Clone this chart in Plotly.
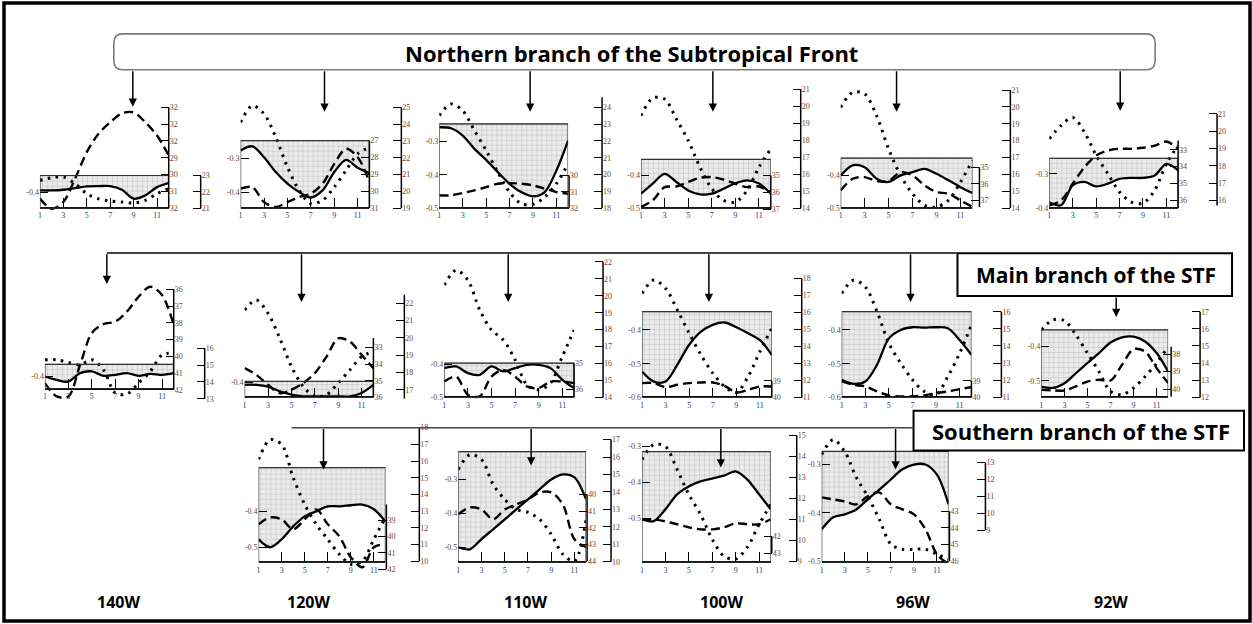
import plotly.graph_objects as go

W, H = 1252, 624
months = list(range(1, 13))
month_ticks = [1, 3, 5, 7, 9, 11]

# ---------------- data ----------------
# Row 1 : northern branch of the Subtropical Front
N140_solid = [-0.395, -0.395, -0.393, -0.388, -0.383, -0.382, -0.382, -0.393, -0.420, -0.410, -0.385, -0.373]
N140_dashed = [31.44, 32.04, 31.64, 30.25, 28.67, 27.58, 26.89, 26.36, 26.30, 26.89, 27.68, 28.87]
N140_dotted = [22.69, 22.86, 22.90, 22.49, 21.88, 21.57, 21.43, 21.37, 21.31, 21.47, 21.88, 22.19]
N140_shade = -0.350

N120_solid = [-0.277, -0.265, -0.297, -0.341, -0.375, -0.400, -0.416, -0.395, -0.341, -0.305, -0.328, -0.344]
N120_dashed = [29.85, 29.76, 30.65, 30.94, 30.65, 30.35, 30.15, 29.56, 28.38, 27.49, 27.99, 29.46]
N120_dotted = [24.11, 25.10, 24.61, 23.22, 21.44, 20.05, 19.26, 19.46, 20.25, 21.24, 22.23, 22.62]
N120_shade = -0.248

N110_solid = [-0.257, -0.260, -0.282, -0.322, -0.355, -0.392, -0.427, -0.452, -0.465, -0.452, -0.387, -0.297]
N110_dashed = [31.22, 31.22, 31.08, 30.92, 30.72, 30.51, 30.47, 30.51, 30.61, 30.81, 31.02, 31.12]
N110_dotted = [23.51, 24.20, 23.80, 22.62, 21.43, 20.14, 18.95, 18.26, 18.22, 18.65, 19.45, 20.64]
N110_shade = -0.247

N100_solid = [-0.456, -0.425, -0.395, -0.420, -0.446, -0.458, -0.456, -0.441, -0.424, -0.415, -0.425, -0.456]
N100_dashed = [36.86, 36.47, 35.69, 35.65, 35.39, 35.14, 35.10, 35.25, 35.49, 35.69, 35.65, 35.98]
N100_dotted = [19.43, 20.47, 20.41, 19.24, 17.97, 16.40, 15.14, 14.45, 14.35, 15.04, 16.40, 17.48]
N100_shade = -0.351

N96_solid = [-0.400, -0.369, -0.375, -0.410, -0.420, -0.400, -0.390, -0.380, -0.395, -0.415, -0.436, -0.454]
N96_dashed = [36.40, 35.70, 35.60, 35.84, 35.84, 35.30, 35.50, 36.10, 36.50, 36.60, 37.00, 37.40]
N96_dotted = [19.97, 20.86, 20.77, 19.48, 17.51, 15.93, 14.85, 14.16, 14.06, 14.46, 15.54, 16.82]
N96_shade = -0.347

N92_solid = [-0.383, -0.392, -0.334, -0.324, -0.337, -0.329, -0.315, -0.312, -0.312, -0.305, -0.271, -0.290]
N92_dashed = [36.30, 36.00, 35.01, 34.03, 33.34, 33.04, 32.94, 32.94, 32.88, 32.75, 32.51, 32.94]
N92_dotted = [19.56, 20.33, 20.80, 19.94, 18.60, 17.54, 16.48, 15.90, 15.84, 16.58, 18.12, 19.17]
N92_shade = -0.255

# Row 2 : main branch of the STF
M140_solid = [-0.400, -0.410, -0.415, -0.390, -0.385, -0.398, -0.395, -0.390, -0.398, -0.392, -0.395, -0.390]
M140_dashed = [41.60, 42.40, 42.40, 40.51, 38.62, 38.07, 37.93, 37.33, 36.44, 35.84, 36.34, 38.13]
M140_dotted = [15.31, 15.31, 15.15, 15.01, 15.31, 14.72, 13.34, 13.28, 13.93, 14.62, 15.60, 15.70]
M140_shade = -0.364

M120_solid = [-0.407, -0.407, -0.412, -0.426, -0.436, -0.441, -0.441, -0.441, -0.441, -0.441, -0.431, -0.407]
M120_dashed = [34.24, 34.64, 35.24, 35.74, 35.54, 35.14, 34.54, 33.54, 32.44, 32.64, 33.44, 34.24]
M120_dotted = [21.61, 22.19, 21.42, 19.98, 18.34, 17.19, 16.61, 16.71, 17.39, 18.15, 18.92, 19.21]
M120_shade = -0.397

M110_solid = [-0.412, -0.407, -0.427, -0.432, -0.407, -0.422, -0.412, -0.402, -0.402, -0.412, -0.447, -0.472]
M110_dashed = [35.71, 35.52, 36.22, 36.28, 35.52, 35.26, 35.52, 35.90, 35.96, 35.71, 35.71, 35.77]
M110_dotted = [20.63, 21.51, 20.92, 19.16, 17.98, 17.39, 16.22, 14.75, 14.45, 14.85, 16.41, 17.98]
M110_shade = -0.397

M100_solid = [-0.523, -0.553, -0.553, -0.503, -0.444, -0.405, -0.385, -0.378, -0.392, -0.410, -0.430, -0.474]
M100_dashed = [39.14, 39.14, 39.38, 39.24, 39.14, 39.10, 39.10, 39.30, 39.70, 39.54, 39.34, 39.34]
M100_dotted = [17.12, 17.90, 17.41, 16.14, 14.77, 13.50, 12.43, 11.64, 11.29, 12.23, 13.70, 15.07]
M100_shade = -0.346

M96_solid = [-0.548, -0.560, -0.553, -0.503, -0.425, -0.400, -0.392, -0.393, -0.392, -0.395, -0.430, -0.474]
M96_dashed = [39.04, 39.24, 39.34, 39.64, 39.88, 39.94, 39.94, 39.88, 39.74, 39.64, 39.50, 39.38]
M96_dotted = [17.07, 17.84, 17.45, 16.00, 14.16, 13.00, 12.03, 11.35, 11.16, 12.22, 13.58, 15.23]
M96_shade = -0.346

M92_solid = [-0.517, -0.521, -0.507, -0.478, -0.448, -0.419, -0.388, -0.373, -0.371, -0.385, -0.419, -0.473]
M92_dashed = [40.04, 40.08, 40.08, 39.85, 39.57, 39.47, 39.51, 38.61, 37.71, 37.85, 38.80, 39.66]
M92_dotted = [15.94, 16.52, 16.48, 15.65, 14.58, 13.51, 12.35, 12.16, 12.55, 13.22, 14.00, 14.97]
M92_shade = -0.351

# Row 3 : southern branch of the STF
S120_solid = [-0.478, -0.500, -0.478, -0.442, -0.414, -0.400, -0.386, -0.386, -0.383, -0.381, -0.394, -0.428]
S120_dashed = [39.24, 38.82, 38.94, 39.55, 38.94, 38.33, 39.24, 39.98, 41.27, 41.88, 40.65, 40.47]
S120_dotted = [16.09, 17.28, 16.99, 15.01, 13.40, 12.21, 11.31, 10.42, 9.82, 10.00, 11.31, 12.63]
S120_shade = -0.278

S110_solid = [-0.500, -0.506, -0.476, -0.447, -0.418, -0.388, -0.359, -0.329, -0.300, -0.285, -0.294, -0.359]
S110_dashed = [41.19, 40.78, 40.90, 41.49, 40.90, 40.60, 40.30, 39.88, 39.88, 40.60, 42.69, 43.16]
S110_dotted = [15.29, 16.14, 15.86, 14.43, 13.57, 13.00, 12.83, 12.43, 11.57, 10.43, 10.03, 12.43]
S110_shade = -0.218

S100_solid = [-0.503, -0.508, -0.475, -0.433, -0.411, -0.397, -0.389, -0.381, -0.369, -0.392, -0.433, -0.475]
S100_dashed = [41.00, 41.00, 41.12, 41.29, 41.47, 41.59, 41.59, 41.47, 41.24, 41.29, 41.29, 41.00]
S100_dotted = [13.86, 14.57, 14.48, 13.38, 12.19, 11.24, 10.05, 9.24, 9.10, 9.67, 10.76, 11.71]
S100_shade = -0.314

S96_solid = [-0.434, -0.409, -0.403, -0.393, -0.372, -0.352, -0.331, -0.310, -0.300, -0.300, -0.321, -0.382]
S96_dashed = [42.16, 42.28, 42.40, 42.58, 42.10, 41.86, 42.58, 42.88, 43.18, 44.08, 45.58, 46.18]
S96_dotted = [13.47, 14.35, 13.65, 12.12, 11.00, 9.65, 8.18, 7.88, 7.88, 7.88, 7.59, 7.29]
S96_shade = -0.273

# ---------------- tick labels ----------------
TICKS = {
    'N140': ([-0.4], ['-0.4'], [26, 27, 28, 29, 30, 31, 32], ['32', '32', '32', '29', '30', '31', '32'], [21, 22, 23]),
    'N120': ([-0.3, -0.4], ['-0.3', '-0.4'], [27, 28, 29, 30, 31], None, [19, 20, 21, 22, 23, 24, 25]),
    'N110': ([-0.3, -0.4, -0.5], ['-0.3', '-0.4', '-0.5'], [30, 31, 32], None, [18, 19, 20, 21, 22, 23, 24]),
    'N100': ([-0.4, -0.5], ['-0.4', '-0.5'], [35, 36, 37], None, [14, 15, 16, 17, 18, 19, 20, 21]),
    'N96': ([-0.4, -0.5], ['-0.4', '-0.5'], [35, 36, 37], None, [14, 15, 16, 17, 18, 19, 20, 21]),
    'N92': ([-0.3, -0.4], ['-0.3', '-0.4'], [33, 34, 35, 36], None, [16, 17, 18, 19, 20, 21]),
    'M140': ([-0.4], ['-0.4'], [36, 37, 38, 39, 40, 41, 42], None, [13, 14, 15, 16]),
    'M120': ([-0.4], ['-0.4'], [33, 34, 35, 36], None, [17, 18, 19, 20, 21, 22]),
    'M110': ([-0.4, -0.5], ['-0.4', '-0.5'], [35, 36], None, [14, 15, 16, 17, 18, 19, 20, 21, 22]),
    'M100': ([-0.4, -0.5, -0.6], ['-0.4', '-0.5', '-0.6'], [39, 40], None, [11, 12, 13, 14, 15, 16, 17, 18]),
    'M96': ([-0.4, -0.5, -0.6], ['-0.4', '-0.5', '-0.6'], [39, 40], None, [11, 12, 13, 14, 15, 16]),
    'M92': ([-0.4, -0.5], ['-0.4', '-0.5'], [38, 39, 40], None, [12, 13, 14, 15, 16, 17]),
    'S120': ([-0.4, -0.5], ['-0.4', '-0.5'], [39, 40, 41, 42], None, [10, 11, 12, 13, 14, 15, 16, 17, 18]),
    'S110': ([-0.3, -0.4, -0.5], ['-0.3', '-0.4', '-0.5'], [40, 41, 42, 43, 44], None, [10, 11, 12, 13, 14, 15, 16, 17]),
    'S100': ([-0.3, -0.4, -0.5], ['-0.3', '-0.4', '-0.5'], [42, 43], None, [9, 10, 11, 12, 13, 14, 15]),
    'S96': ([-0.3, -0.4, -0.5], ['-0.3', '-0.4', '-0.5'], [43, 44, 45, 46], None, [9, 10, 11, 12, 13]),
}

DATA = {
    'N140': (N140_solid, N140_dashed, N140_dotted, N140_shade),
    'N120': (N120_solid, N120_dashed, N120_dotted, N120_shade),
    'N110': (N110_solid, N110_dashed, N110_dotted, N110_shade),
    'N100': (N100_solid, N100_dashed, N100_dotted, N100_shade),
    'N96': (N96_solid, N96_dashed, N96_dotted, N96_shade),
    'N92': (N92_solid, N92_dashed, N92_dotted, N92_shade),
    'M140': (M140_solid, M140_dashed, M140_dotted, M140_shade),
    'M120': (M120_solid, M120_dashed, M120_dotted, M120_shade),
    'M110': (M110_solid, M110_dashed, M110_dotted, M110_shade),
    'M100': (M100_solid, M100_dashed, M100_dotted, M100_shade),
    'M96': (M96_solid, M96_dashed, M96_dotted, M96_shade),
    'M92': (M92_solid, M92_dashed, M92_dotted, M92_shade),
    'S120': (S120_solid, S120_dashed, S120_dotted, S120_shade),
    'S110': (S110_solid, S110_dashed, S110_dotted, S110_shade),
    'S100': (S100_solid, S100_dashed, S100_dotted, S100_shade),
    'S96': (S96_solid, S96_dashed, S96_dotted, S96_shade),
}

# ---------------- layout geometry (pixels) ----------------
GEOM = {
    'N140': dict(x1=38, x12=167, box=207.7, top=98, bot=214, L=(-0.4, 191.7, -0.5, 225.0),
                 R1=(26, 106.7, 32, 207.7, 167), R1line=(26, 32), R2=(21, 207.7, 23, 175, 199), R2line=(21, 23)),
    'N120': dict(x1=239, x12=368, box=207.7, top=98, bot=214, L=(-0.3, 157.7, -0.4, 191.7),
                 R1=(27, 140, 31, 207.7, 368), R1line=(27, 31), R2=(19, 207.7, 25, 106.7, 400), R2line=(19, 25)),
    'N110': dict(x1=438, x12=567, box=207.7, top=92, bot=214, L=(-0.3, 141, -0.5, 207.7),
                 R1=(30, 175, 32, 207.7, 568), R1line=(30, 32), R2=(18, 207.7, 24, 106.7, 601), R2line=(18, 24.6)),
    'N100': dict(x1=640, x12=770, box=207.7, top=85, bot=214, L=(-0.4, 175, -0.5, 207.7),
                 R1=(35, 175, 37, 209, 770), R1line=(35, 37), R2=(14, 207.7, 21, 88.3, 800), R2line=(14, 21)),
    'N96': dict(x1=840, x12=972, box=207.7, top=85, bot=214, L=(-0.4, 175, -0.5, 207.7),
                R1=(35, 166.7, 37, 200, 979), R1line=(35, 37.4), R2=(14, 207.7, 21, 89.3, 1010), R2line=(14, 21)),
    'N92': dict(x1=1049, x12=1178, box=207.7, top=105, bot=214, L=(-0.3, 173.3, -0.4, 207.7),
                R1=(33, 149.3, 36, 200, 1178), R1line=(32.45, 36.46), R2=(16, 200, 21, 113.3, 1217), R2line=(15.7, 21)),
    'M140': dict(x1=43, x12=172, box=389, top=282, bot=403, L=(-0.4, 376.7, -0.5, 410.7),
                 R1=(36, 289.3, 42, 390, 172), R1line=(36, 42), R2=(13, 399, 16, 348.3, 203), R2line=(13, 16)),
    'M120': dict(x1=243, x12=372, box=397.7, top=292, bot=403, L=(-0.4, 382.7, -0.5, 416.7),
                 R1=(33, 347.7, 36, 397.7, 372), R1line=(32.42, 36), R2=(17, 390, 22, 303.3, 403), R2line=(16.5, 22.5)),
    'M110': dict(x1=443, x12=573, box=397.7, top=258, bot=403, L=(-0.4, 364.3, -0.5, 397.7),
                 R1=(35, 363.3, 36, 389.3, 573), R1line=(35, 36.32), R2=(14, 397.7, 22, 261.7, 602), R2line=(14, 22)),
    'M100': dict(x1=641, x12=771, box=397.7, top=272, bot=403, L=(-0.4, 330, -0.6, 397.7),
                 R1=(39, 381, 40, 397.7, 771), R1line=(39, 40), R2=(11, 397.7, 18, 278.3, 801), R2line=(11, 18)),
    'M96': dict(x1=841, x12=971, box=397.7, top=272, bot=403, L=(-0.4, 330, -0.6, 397.7),
                R1=(39, 381, 40, 397.7, 971), R1line=(39, 40), R2=(11, 397.7, 16, 311.7, 1001), R2line=(11, 16)),
    'M92': dict(x1=1041, x12=1168, box=397.7, top=305, bot=403, L=(-0.4, 346.7, -0.5, 381),
                R1=(38, 354.3, 40, 389.3, 1171), R1line=(37.57, 40.44), R2=(12, 397.7, 17, 311.7, 1200), R2line=(12, 17)),
    'S120': dict(x1=257, x12=384, box=563, top=422, bot=575, L=(-0.4, 512, -0.5, 548),
                 R1=(39, 521, 42, 570, 385), R1line=(38.02, 42), R2=(10, 562, 18, 428, 418), R2line=(10, 18)),
    'S110': dict(x1=457, x12=585, box=563, top=435, bot=575, L=(-0.3, 480, -0.5, 548),
                 R1=(40, 495, 44, 562, 586), R1line=(40, 44), R2=(10, 562.5, 17, 440, 610), R2line=(10, 17)),
    'S100': dict(x1=641, x12=770, box=563, top=428, bot=575, L=(-0.3, 447, -0.5, 519),
                 R1=(42, 537, 43, 554, 771), R1line=(42, 43), R2=(9, 562, 15, 436, 796), R2line=(9, 15)),
    'S96': dict(x1=821, x12=948, box=563, top=435, bot=575, L=(-0.3, 465, -0.5, 562),
                R1=(43, 512, 46, 562, 949), R1line=(43, 46), R2=(9, 531, 13, 463, 985), R2line=(9, 13)),
}

ORDER = ['N140', 'N120', 'N110', 'N100', 'N96', 'N92',
         'M140', 'M120', 'M110', 'M100', 'M96', 'M92',
         'S120', 'S110', 'S100', 'S96']


def fx(x):
    return x / W


def fy(y):
    return 1 - y / H


def lin(cal, p):
    va, pa, vb, pb = cal[:4]
    return va + (p - pa) * (vb - va) / (pb - pa)


def ref(prefix, n):
    return prefix if n == 1 else f"{prefix}{n}"


def key(prefix, n):
    return f"{prefix}axis" if n == 1 else f"{prefix}axis{n}"


TICKFONT_X = dict(family="Liberation Serif", size=8, color="#2f3b78")
TICKFONT_Y = dict(family="Liberation Serif", size=8, color="#6a4636")

fig = go.Figure()
layout = {}
shapes = []
annotations = []

for k, name in enumerate(ORDER, start=1):
    g = GEOM[name]
    solid, dashed, dotted, shade = DATA[name]
    Lt, Ltxt, R1t, R1txt, R2t = TICKS[name]
    yl, y1, y2 = 3 * k - 2, 3 * k - 1, 3 * k
    xr, ylr, y1r, y2r = ref('x', k), ref('y', yl), ref('y', y1), ref('y', y2)
    dom = [fy(g['bot']), fy(g['top'])]

    layout[key('x', k)] = dict(domain=[fx(g['x1']), fx(g['x12'])], range=[1, 12], anchor='free',
                               position=fy(g['box']), tickvals=month_ticks, ticks='inside', ticklen=9,
                               tickwidth=1.4, tickcolor='black', showline=True, linewidth=1.5,
                               linecolor='black', showgrid=False, zeroline=False, tickfont=TICKFONT_X)
    layout[key('y', yl)] = dict(domain=dom, range=[lin(g['L'], g['bot']), lin(g['L'], g['top'])],
                                anchor=xr, side='left', tickvals=Lt, ticktext=Ltxt, ticks='inside',
                                ticklen=8, tickwidth=1.4, tickcolor='black', showline=False,
                                showgrid=False, zeroline=False, tickfont=TICKFONT_Y)
    layout[key('y', y1)] = dict(overlaying=ylr, side='right', anchor='free', position=fx(g['R1'][4]),
                                range=[lin(g['R1'], g['bot']), lin(g['R1'], g['top'])],
                                tickvals=R1t, ticktext=R1txt if R1txt else [str(v) for v in R1t],
                                ticks='inside', ticklen=8, tickwidth=1.4, tickcolor='black',
                                showline=False, showgrid=False, zeroline=False, tickfont=TICKFONT_Y)
    layout[key('y', y2)] = dict(overlaying=ylr, side='right', anchor='free', position=fx(g['R2'][4]),
                                range=[lin(g['R2'], g['bot']), lin(g['R2'], g['top'])],
                                tickvals=R2t, ticks='inside', ticklen=8, tickwidth=1.4, tickcolor='black',
                                showline=False, showgrid=False, zeroline=False, tickfont=TICKFONT_Y)

    # shaded region: between box top and the solid curve
    fig.add_trace(go.Scatter(x=months, y=[shade] * 12, xaxis=xr, yaxis=ylr, mode='lines',
                             line=dict(width=0.8, color='#777777'), hoverinfo='skip'))
    fig.add_trace(go.Scatter(x=months, y=solid, xaxis=xr, yaxis=ylr, mode='lines', fill='tonexty',
                             fillcolor='#dedede',
                             fillpattern=dict(shape='+', size=5, solidity=0.18, fgcolor='#8e8e8e',
                                              bgcolor='#ebebeb'),
                             line=dict(color='black', width=2.3, shape='spline', smoothing=0.9)))
    fig.add_trace(go.Scatter(x=months, y=dashed, xaxis=xr, yaxis=y1r, mode='lines',
                             line=dict(color='black', width=2.4, dash='9px,5px', shape='spline', smoothing=0.9)))
    fig.add_trace(go.Scatter(x=months, y=dotted, xaxis=xr, yaxis=y2r, mode='lines',
                             line=dict(color='black', width=3, dash='2.5px,5.5px', shape='spline', smoothing=0.9)))

    # box outline
    shapes.append(dict(type='rect', xref=xr, yref=ylr, x0=1, x1=12, y0=lin(g['L'], g['box']), y1=shade,
                       line=dict(color='#333333', width=1.2)))
    # right axis lines
    for yr, ln, cal in ((y1r, g['R1line'], g['R1']), (y2r, g['R2line'], g['R2'])):
        shapes.append(dict(type='line', xref='paper', yref=yr, x0=fx(cal[4]), x1=fx(cal[4]),
                           y0=ln[0], y1=ln[1], line=dict(color='black', width=1.5)))

# ---------------- annotation boxes, connectors and arrows ----------------
def rounded(x0, y0, x1, y1, r):
    pts = [
        f"M {fx(x0 + r)},{fy(y0)}", f"L {fx(x1 - r)},{fy(y0)}", f"Q {fx(x1)},{fy(y0)} {fx(x1)},{fy(y0 + r)}",
        f"L {fx(x1)},{fy(y1 - r)}", f"Q {fx(x1)},{fy(y1)} {fx(x1 - r)},{fy(y1)}",
        f"L {fx(x0 + r)},{fy(y1)}", f"Q {fx(x0)},{fy(y1)} {fx(x0)},{fy(y1 - r)}",
        f"L {fx(x0)},{fy(y0 + r)}", f"Q {fx(x0)},{fy(y0)} {fx(x0 + r)},{fy(y0)}", "Z"]
    return " ".join(pts)


shapes.append(dict(type='path', xref='paper', yref='paper', path=rounded(112, 33, 1155, 69, 9),
                   line=dict(color='#7a7a7a', width=1.6)))
shapes.append(dict(type='rect', xref='paper', yref='paper', x0=fx(957), x1=fx(1232), y0=fy(296), y1=fy(253),
                   line=dict(color='black', width=2)))
shapes.append(dict(type='rect', xref='paper', yref='paper', x0=fx(913), x1=fx(1244), y0=fy(451), y1=fy(411),
                   line=dict(color='black', width=2)))
# connectors
shapes.append(dict(type='line', xref='paper', yref='paper', x0=fx(105), x1=fx(957), y0=fy(252.7), y1=fy(252.7),
                   line=dict(color='#444444', width=2)))
shapes.append(dict(type='line', xref='paper', yref='paper', x0=fx(290), x1=fx(913), y0=fy(428), y1=fy(428),
                   line=dict(color='#444444', width=1.5)))
# outer frame
shapes.append(dict(type='rect', xref='paper', yref='paper', x0=fx(2), x1=fx(1250), y0=fy(622), y1=fy(2),
                   line=dict(color='black', width=3.5)))

arrows = [(131, 69, 106), (323, 69, 111), (529, 69, 111), (712, 69, 111), (896, 69, 111), (1120, 69, 110),
          (105, 252.7, 284), (300, 252.7, 302), (507, 252.7, 302), (708, 252.7, 302), (910, 252.7, 302),
          (1116, 296, 317),
          (322, 428, 470), (530, 428, 466), (720, 428, 468), (895, 428, 470)]
for x, y0, y1 in arrows:
    annotations.append(dict(x=fx(x), y=fy(y1), xref='paper', yref='paper', text='', showarrow=True,
                            ax=0, ay=-(y1 - y0), arrowhead=2, arrowsize=1.1, arrowwidth=1.5,
                            arrowcolor='black'))

TXT = dict(xref='paper', yref='paper', showarrow=False, xanchor='center', yanchor='middle')
annotations.append(dict(x=fx(631), y=fy(52), text='<b>Northern branch of the Subtropical Front</b>',
                        font=dict(family='Open Sans', size=22, color='black'), **TXT))
annotations.append(dict(x=fx(1096), y=fy(275), text='<b>Main branch of the STF</b>',
                        font=dict(family='Open Sans', size=21, color='black'), **TXT))
annotations.append(dict(x=fx(1081), y=fy(431), text='<b>Southern branch of the STF</b>',
                        font=dict(family='Open Sans', size=22, color='black'), **TXT))

lon_labels = ['140W', '120W', '110W', '100W', '96W', '92W']
lon_x = [117, 307, 524, 721, 912, 1111]
for lab, x in zip(lon_labels, lon_x):
    annotations.append(dict(x=fx(x), y=fy(603), text=f'<b>{lab}</b>',
                            font=dict(family='Open Sans', size=16, color='black'), **TXT))

fig.update_layout(width=W, height=H, margin=dict(l=0, r=0, t=0, b=0), showlegend=False,
                  paper_bgcolor='white', plot_bgcolor='rgba(0,0,0,0)', shapes=shapes,
                  annotations=annotations, **layout)

fig.write_html("out.html")
